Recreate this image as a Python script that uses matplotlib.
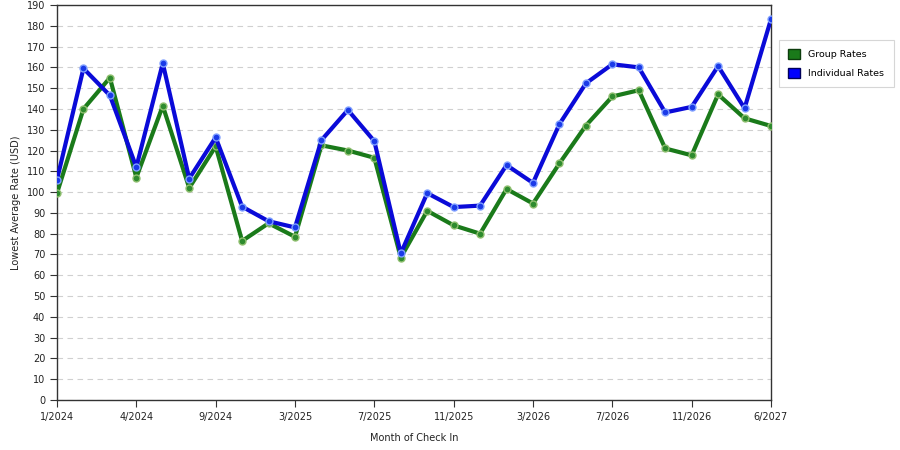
import matplotlib
matplotlib.use("Agg")
import matplotlib.pyplot as plt
from matplotlib.patches import Patch

tick_labels = ["1/2024", "4/2024", "9/2024", "3/2025", "7/2025", "11/2025",
               "3/2026", "7/2026", "11/2026", "6/2027"]
group_rates = [99.5, 140, 155, 107, 141.5, 102, 122, 76.5, 85, 78.5,
               122.5, 120, 116.5, 68.5, 91, 84, 80, 101.5, 94.5, 113.8,
               132, 146, 149, 121, 117.7, 147, 135.5, 131.8]
individual_rates = [106, 159.5, 146.5, 112, 162, 106.5, 126.3, 93, 86, 83,
                    125, 139.5, 124.5, 70.5, 99.5, 92.8, 93.5, 113, 104.4, 132.7,
                    152.3, 161.5, 160, 138.3, 141, 160.6, 140.3, 183.2]

plt.rcParams['font.family'] = ['DejaVu Sans']
fig = plt.figure(figsize=(9, 4.5), dpi=100)
ax = fig.add_axes([57/900, 1-400/450, (771-57)/900, (400-5)/450])

x = list(range(len(group_rates)))
green = "#1a7a1a"
blue = "#0a0ad8"
ax.plot(x, group_rates, color=green, lw=3, marker='o', ms=5,
        mfc="#2e8b2e", mec="#8fbf6f", mew=1.0, zorder=3)
ax.plot(x, individual_rates, color=blue, lw=3, marker='o', ms=5,
        mfc="#1a3ae8", mec="#7f9fff", mew=1.0, zorder=4)

ax.set_xlim(0, len(x) - 1)
ax.set_ylim(0, 190)
ax.set_yticks(range(0, 191, 10))
ax.set_xticks(list(range(0, len(x), 3)))
ax.set_xticklabels(tick_labels)
ax.tick_params(axis='both', labelsize=7, length=5, direction='out',
               color='#333333', labelcolor='#222222')
for s in ax.spines.values():
    s.set_color('#333333')
    s.set_linewidth(1)
ax.yaxis.grid(True, linestyle=(0, (5, 4)), color='#d0d0d0', lw=0.8)
ax.set_axisbelow(True)

ax.set_ylabel("Lowest Average Rate (USD)", fontsize=7, color='#222222')
ax.set_xlabel("Month of Check In", fontsize=7, color='#222222', labelpad=8)

handles = [Patch(facecolor="#1a7a1a", edgecolor="#0d3d0d", label="Group Rates"),
           Patch(facecolor="#0000ff", edgecolor="#00005a", label="Individual Rates")]
leg = fig.legend(handles=handles, loc='upper left',
                 bbox_to_anchor=(779/900, 1-40/450), fontsize=6.8,
                 frameon=True, fancybox=False, edgecolor='#cccccc',
                 handlelength=1.2, handleheight=1.2, borderpad=1.0,
                 labelspacing=0.9, handletextpad=0.9, borderaxespad=0)
leg.get_frame().set_linewidth(0.8)

fig.savefig("out.png", dpi=100)
